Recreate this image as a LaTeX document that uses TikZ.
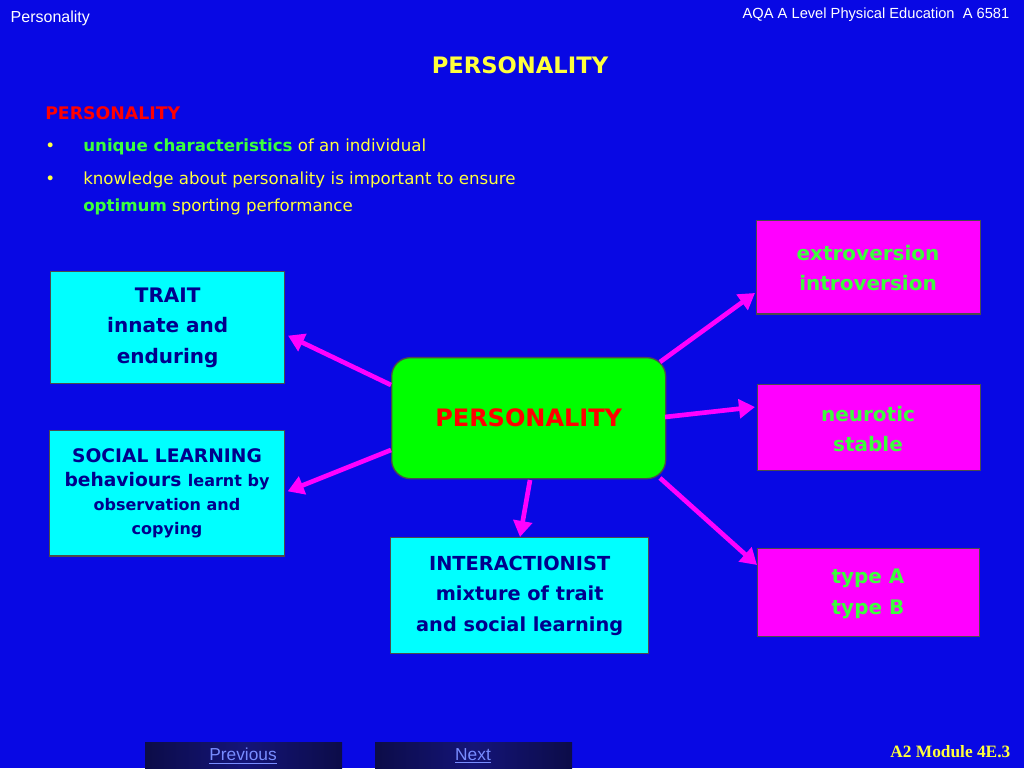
\documentclass[tikz,border=0pt]{standalone}
\usepackage{fontspec}
\usetikzlibrary{arrows.meta}
\setmainfont{DejaVu Sans}
\newfontfamily\serifb{Liberation Serif}
\newfontfamily\arialf{Liberation Sans}
\definecolor{bg}{RGB}{8,8,228}
\definecolor{txtyel}{RGB}{255,255,60}
\definecolor{cyanb}{RGB}{0,255,255}
\definecolor{navy}{RGB}{0,0,140}
\definecolor{mag}{RGB}{255,0,255}
\definecolor{grn}{RGB}{0,255,0}
\definecolor{gtxt}{RGB}{60,255,60}
\definecolor{btn}{RGB}{20,20,120}
\definecolor{btntxt}{RGB}{120,140,255}
\begin{document}
\begin{tikzpicture}[x=0.75pt,y=-0.75pt,
 cbox/.style={draw=black!70,line width=1pt,fill=cyanb,text=navy,font=\bfseries\fontsize{15}{23}\selectfont,align=center,anchor=north west,inner sep=0pt},
 mbox/.style={draw=black!70,line width=1pt,fill=mag,anchor=north west,inner sep=0pt},
 mtxt/.style={text=gtxt,font=\bfseries\fontsize{15}{23}\selectfont,align=center},
 arr/.style={draw=mag,line width=3.5pt,-{Triangle[length=12pt,width=14pt]}},
 yt/.style={text=txtyel,font=\fontsize{12.5}{15}\selectfont,anchor=west,inner sep=0pt}]
\fill[bg] (0,0) rectangle (1024,768);
\node[anchor=west,text=white,font=\arialf\fontsize{12}{14}\selectfont] (hl) at (6,18) {Personality};
\node[anchor=east,text=white,font=\arialf\fontsize{11}{13}\selectfont] (hr) at (1014,15) {AQA A Level Physical Education\ \ A 6581};
\node[text=txtyel,font=\bfseries\fontsize{17}{20}\selectfont] (title) at (520,65) {PERSONALITY};
\node[anchor=west,inner sep=0pt,text=red,font=\bfseries\fontsize{13}{15}\selectfont] (sub) at (45,113) {PERSONALITY};
\node[yt] (b1) at (45,147) {•};
\node[yt] (t1) at (83,147) {\textcolor{gtxt}{\bfseries unique characteristics} of an individual};
\node[yt] (b2) at (45,180) {•};
\node[yt] (t2) at (83,180) {knowledge about personality is important to ensure};
\node[yt] (t3) at (83,207) {\textcolor{gtxt}{\bfseries optimum} sporting performance};
\node[cbox,minimum width=175.5pt,minimum height=84pt] (trait) at (50,271) {TRAIT\\innate and\\enduring};
\node[cbox,minimum width=176pt,minimum height=94pt,font=\bfseries\fontsize{14}{18}\selectfont] (soc) at (49,430) {SOCIAL LEARNING\\behaviours {\fontsize{12}{18}\selectfont learnt by}\\{\fontsize{12}{18}\selectfont observation and}\\{\fontsize{12}{18}\selectfont copying}};
\node[cbox,minimum width=193.5pt,minimum height=87pt,font=\bfseries\fontsize{14.5}{23}\selectfont] (inter) at (390,537) {INTERACTIONIST\\mixture of trait\\and social learning};
\node[draw=black!70,line width=1pt,fill=grn,rounded corners=14pt,text=red,font=\bfseries\fontsize{18}{20}\selectfont,anchor=north west,minimum width=205.5pt,minimum height=90.75pt] (pers) at (391,357) {PERSONALITY};
\node[mbox,minimum width=168pt,minimum height=70pt] (ext) at (756,220) {};
\node[mtxt] (extt) at (868,268) {extroversion\\introversion};
\node[mbox,minimum width=167pt,minimum height=64.5pt] (neu) at (757,384) {};
\node[mtxt] (neut) at (868,429) {neurotic\\stable};
\node[mbox,minimum width=166.5pt,minimum height=66pt] (typ) at (757,548) {};
\node[mtxt] (typt) at (868,594) {type A\\type B};
\draw[arr] ([yshift=-21pt]pers.north west) -- ([xshift=2pt,yshift=-6pt]trait.east);
\draw[arr] ([yshift=22pt]pers.south west) -- ([xshift=2pt,yshift=-1pt]soc.north east |- 0,490);
\draw[arr] (530,480) -- (inter.north -| 520,0);
\draw[arr] (660,362) -- (755,293);
\draw[arr] (665,417) -- (755,407);
\draw[arr] (660,478) -- (757,565);
\shade[left color=btn!60!black,right color=btn!60!black,middle color=btn] (145,742) rectangle (342,768);
\shade[left color=btn!60!black,right color=btn!60!black,middle color=btn] (375,742) rectangle (572,768);
\node[text=btntxt,font=\arialf\fontsize{13}{15}\selectfont] (prev) at (243,756) {\underline{Previous}};
\node[text=btntxt,font=\arialf\fontsize{13}{15}\selectfont] (next) at (473,756) {\underline{Next}};
\node[anchor=east,text=txtyel,font=\serifb\bfseries\fontsize{13}{15}\selectfont] (mod) at (1015,752) {A2 Module 4E.3};
\end{tikzpicture}
\end{document}
